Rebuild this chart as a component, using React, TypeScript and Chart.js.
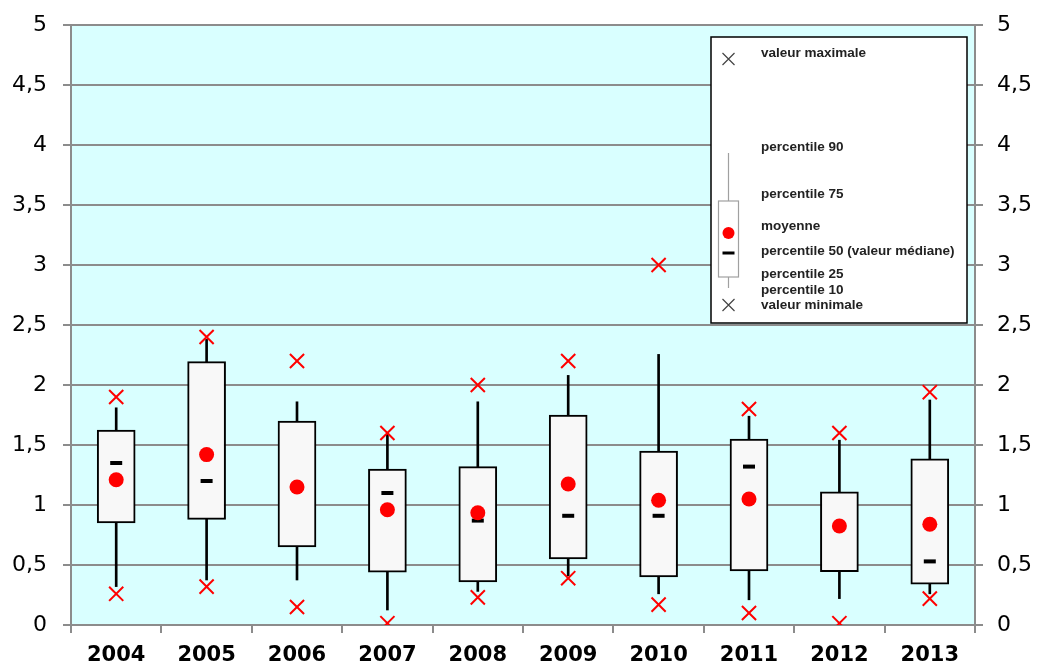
import React, { useEffect, useRef } from "react";
import { Chart, registerables } from "chart.js";

Chart.register(...registerables);

const years = ["2004", "2005", "2006", "2007", "2008", "2009", "2010", "2011", "2012", "2013"];
const maxVals = [1.9, 2.4, 2.2, 1.6, 2.0, 2.2, 3.0, 1.8, 1.6, 1.94];
const p90 = [1.81, 2.38, 1.86, 1.6, 1.86, 2.08, 2.255, 1.74, 1.54, 1.875];
const p75 = [1.625, 2.195, 1.7, 1.3, 1.32, 1.75, 1.45, 1.55, 1.11, 1.385];
const medianVals = [1.35, 1.2, 1.15, 1.1, 0.87, 0.91, 0.91, 1.32, 0.83, 0.53];
const meanVals = [1.21, 1.42, 1.15, 0.96, 0.935, 1.175, 1.04, 1.05, 0.825, 0.84];
const p25 = [0.85, 0.88, 0.65, 0.44, 0.36, 0.55, 0.4, 0.45, 0.445, 0.34];
const p10 = [0.32, 0.375, 0.375, 0.125, 0.28, 0.41, 0.26, 0.21, 0.22, 0.26];
const minVals = [0.26, 0.32, 0.15, 0.015, 0.23, 0.39, 0.17, 0.1, 0.015, 0.22];

const yTicks = [0, 0.5, 1, 1.5, 2, 2.5, 3, 3.5, 4, 4.5, 5];

const legendItems = [
  { label: "valeur maximale", y: 53 },
  { label: "percentile 90", y: 147 },
  { label: "percentile 75", y: 194 },
  { label: "moyenne", y: 226 },
  { label: "percentile 50 (valeur médiane)", y: 251 },
  { label: "percentile 25", y: 274 },
  { label: "percentile 10", y: 290 },
  { label: "valeur minimale", y: 305 },
];

const GRID = "#8c8c8c";
const FONT = "Arial, 'Liberation Sans', sans-serif";
const TICK_FONT = "'DejaVu Sans', Arial, sans-serif";

const bgPlugin = {
  id: "bgPlugin",
  beforeDraw(chart: any) {
    const { ctx, chartArea } = chart;
    ctx.save();
    ctx.fillStyle = "#ffffff";
    ctx.fillRect(0, 0, chart.width, chart.height);
    ctx.fillStyle = "#d9ffff";
    ctx.fillRect(chartArea.left, chartArea.top, chartArea.right - chartArea.left, chartArea.bottom - chartArea.top);
    ctx.restore();
  },
};

const legendPlugin = {
  id: "boxLegend",
  afterDraw(chart: any) {
    const ctx = chart.ctx;
    ctx.save();
    const bx = 711, by = 37, bw = 256, bh = 286;
    ctx.fillStyle = "#ffffff";
    ctx.fillRect(bx, by, bw, bh);
    ctx.strokeStyle = "#000000";
    ctx.lineWidth = 1.5;
    ctx.strokeRect(bx, by, bw, bh);

    const cx = 728.5;
    const drawX = (x: number, y: number) => {
      ctx.beginPath();
      ctx.strokeStyle = "#444444";
      ctx.lineWidth = 1.2;
      ctx.moveTo(x - 6, y - 6);
      ctx.lineTo(x + 6, y + 6);
      ctx.moveTo(x + 6, y - 6);
      ctx.lineTo(x - 6, y + 6);
      ctx.stroke();
    };
    drawX(cx, 59);
    drawX(cx, 305);
    ctx.strokeStyle = "#a0a0a0";
    ctx.lineWidth = 1.2;
    ctx.beginPath();
    ctx.moveTo(cx, 153);
    ctx.lineTo(cx, 201);
    ctx.moveTo(cx, 277);
    ctx.lineTo(cx, 288);
    ctx.stroke();
    ctx.fillStyle = "#ffffff";
    ctx.fillRect(718.5, 201, 20, 76);
    ctx.strokeRect(718.5, 201, 20, 76);
    ctx.fillStyle = "#ff0000";
    ctx.beginPath();
    ctx.arc(cx, 233, 6, 0, Math.PI * 2);
    ctx.fill();
    ctx.fillStyle = "#000000";
    ctx.fillRect(722.5, 251.5, 12, 3);

    ctx.fillStyle = "#222222";
    ctx.font = "bold 13.5px " + FONT;
    ctx.textBaseline = "middle";
    ctx.textAlign = "left";
    legendItems.forEach((it) => ctx.fillText(it.label, 761, it.y));
    ctx.restore();
  },
};

const fmt = (v: any) => String(v).replace(".", ",");

export default function App() {
  const ref = useRef<HTMLCanvasElement | null>(null);
  useEffect(() => {
    document.body.style.margin = "0";
    if (!ref.current) return;
    const chart = new Chart(ref.current, {
      type: "bar",
      data: {
        labels: years,
        datasets: [
          {
            type: "bar",
            label: "whisker",
            data: years.map((_, i) => [p10[i], p90[i]]),
            backgroundColor: "#000000",
            barThickness: 2,
            grouped: false,
            order: 6,
            yAxisID: "y",
          } as any,
          {
            type: "bar",
            label: "box",
            data: years.map((_, i) => [p25[i], p75[i]]),
            backgroundColor: "#f8f8f8",
            borderColor: "#000000",
            borderWidth: 2,
            borderSkipped: false,
            barThickness: 38,
            grouped: false,
            order: 5,
            yAxisID: "y",
          } as any,
          {
            type: "line",
            label: "median",
            data: medianVals,
            showLine: false,
            pointStyle: "line",
            pointRadius: 6,
            pointBorderWidth: 4,
            pointBorderColor: "#000000",
            order: 4,
            yAxisID: "y",
          } as any,
          {
            type: "line",
            label: "mean",
            data: meanVals,
            showLine: false,
            pointStyle: "circle",
            pointRadius: 7.5,
            pointBorderWidth: 0,
            pointBackgroundColor: "#ff0000",
            pointBorderColor: "#ff0000",
            order: 3,
            yAxisID: "y",
          } as any,
          {
            type: "line",
            label: "max",
            data: maxVals,
            showLine: false,
            pointStyle: "crossRot",
            pointRadius: 10,
            pointBorderWidth: 2,
            pointBorderColor: "#ff0000",
            order: 2,
            yAxisID: "y",
          } as any,
          {
            type: "line",
            label: "min",
            data: minVals,
            showLine: false,
            pointStyle: "crossRot",
            pointRadius: 10,
            pointBorderWidth: 2,
            pointBorderColor: "#ff0000",
            order: 1,
            yAxisID: "y",
          } as any,
        ],
      },
      options: {
        responsive: false,
        animation: false,
        layout: { padding: { top: 25, left: 0, right: 0, bottom: 0 } },
        plugins: { legend: { display: false }, tooltip: { enabled: false } },
        scales: {
          x: {
            type: "category",
            offset: true,
            grid: {
              display: true,
              offset: true,
              drawOnChartArea: false,
              drawTicks: true,
              tickLength: 8,
              color: GRID,
              lineWidth: 2,
            },
            border: { display: true, color: GRID, width: 2 },
            ticks: {
              color: "#000000",
              font: { family: TICK_FONT, size: 21, weight: "bold" },
              padding: 10,
              maxRotation: 0,
            },
            afterFit: (s: any) => {
              s.height = 41;
              s.paddingLeft = 0;
              s.paddingRight = 0;
            },
          },
          y: {
            type: "linear",
            position: "left",
            min: 0,
            max: 5,
            afterBuildTicks: (s: any) => {
              s.ticks = yTicks.map((v) => ({ value: v }));
            },
            grid: { color: GRID, lineWidth: 2, tickLength: 8, drawTicks: true },
            border: { display: true, color: GRID, width: 2 },
            ticks: {
              color: "#000000",
              font: { family: TICK_FONT, size: 22 },
              padding: 16,
              callback: (v: any) => fmt(v),
            },
            afterFit: (s: any) => {
              s.width = 71;
              s.paddingTop = 0;
              s.paddingBottom = 0;
            },
          },
          y2: {
            type: "linear",
            position: "right",
            min: 0,
            max: 5,
            afterBuildTicks: (s: any) => {
              s.ticks = yTicks.map((v) => ({ value: v }));
            },
            grid: { drawOnChartArea: false, color: GRID, lineWidth: 2, tickLength: 8, drawTicks: true },
            border: { display: true, color: GRID, width: 2 },
            ticks: {
              color: "#000000",
              font: { family: TICK_FONT, size: 22 },
              padding: 14,
              callback: (v: any) => fmt(v),
            },
            afterFit: (s: any) => {
              s.width = 62;
              s.paddingTop = 0;
              s.paddingBottom = 0;
            },
          },
        },
      } as any,
      plugins: [bgPlugin, legendPlugin],
    });
    return () => chart.destroy();
  }, []);
  return (
    <div style={{ width: 1037, height: 666, overflow: "hidden" }}>
      <canvas ref={ref} width={1037} height={666} style={{ display: "block" }} />
    </div>
  );
}
